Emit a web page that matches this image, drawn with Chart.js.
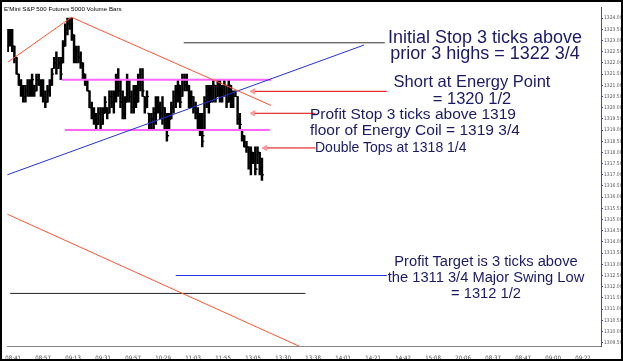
<!DOCTYPE html>
<html>
<head>
<meta charset="utf-8">
<script src="https://cdn.jsdelivr.net/npm/chart.js@4"></script>
<style>
  body { margin: 0; background: #fff; }
  #frame { position: relative; width: 619px; height: 357px; border: 2px solid #000; background: #fff; overflow: hidden; }
  #chart { position: absolute; left: 0; top: 0; }
  .note { position: absolute; color: #1a1a66; font-family: Arial, "Liberation Sans", sans-serif; line-height: 16px; text-align: center; white-space: nowrap; }
  #title { position: absolute; left: 2px; top: 3px; font: 6.2px Arial, "Liberation Sans", sans-serif; color: #000; white-space: nowrap; }
</style>
</head>
<body>
<div id="frame">
  <canvas id="chart" width="619" height="357"></canvas>
  <div id="title">E'Mini S&amp;P 500 Futures 5000 Volume Bars</div>
  <div class="note" style="left:373px; top:27px; width:220px; font-size:18px;">Initial Stop 3 ticks above<br>prior 3 highs = 1322 3/4</div>
  <div class="note" style="left:370px; top:71px; width:200px; font-size:16.5px; line-height:17px;">Short at Energy Point<br>= 1320 1/2</div>
  <div class="note" style="left:308px; top:104px; width:200px; font-size:15.5px;">Profit Stop 3 ticks above 1319<br>floor of Energy Coil = 1319 3/4</div>
  <div class="note" style="left:313px; top:137px; text-align:left; font-size:14px;">Double Tops at 1318 1/4</div>
  <div class="note" style="left:384px; top:251px; width:200px; font-size:14.7px;">Profit Target is 3 ticks above<br>the 1311 3/4 Major Swing Low<br>= 1312 1/2</div>
</div>
<script>
// bar values (ES ticks of 0.25)
const highs = [1323.5, 1323.5, 1323.5, 1322.75, 1322.25, 1321.5, 1321.25, 1321.0, 1321.0, 1321.25,
  1321.25, 1321.5, 1321.0, 1321.5, 1321.5, 1321.25, 1321.25, 1320.75, 1321.0, 1321.25,
  1321.75, 1322.25, 1322.5, 1322.25, 1322.25, 1323.0, 1323.75, 1324.0, 1324.0, 1324.0,
  1323.25, 1322.75, 1322.75, 1322.5, 1322.0, 1321.5, 1321.25, 1320.75, 1320.25, 1320.0,
  1319.75, 1320.0, 1320.0, 1320.0, 1320.5, 1320.0, 1320.75, 1320.75, 1320.75, 1321.5,
  1321.75, 1321.25, 1320.75, 1320.5, 1321.5, 1321.25, 1320.75, 1321.0, 1321.0, 1321.5,
  1321.75, 1321.75, 1320.5, 1320.75, 1319.75, 1319.75, 1320.0, 1320.5, 1320.5, 1320.25,
  1320.5, 1320.0, 1319.75, 1319.75, 1320.25, 1320.75, 1321.0, 1321.25, 1321.0, 1321.5,
  1321.5, 1321.5, 1321.0, 1320.75, 1320.5, 1320.25, 1320.0, 1319.75, 1319.75, 1320.5,
  1321.0, 1321.0, 1321.0, 1321.25, 1321.0, 1321.25, 1321.25, 1321.0, 1321.25, 1321.0,
  1321.25, 1321.0, 1320.75, 1320.75, 1320.5, 1319.75, 1319.0, 1318.75, 1318.5, 1318.25,
  1318.25, 1318.0, 1318.25, 1318.25, 1318.0, 1317.75];
const lows = [1322.5, 1322.75, 1322.5, 1322.0, 1321.5, 1321.0, 1320.5, 1320.25, 1320.25, 1320.5,
  1320.5, 1320.5, 1320.5, 1320.75, 1321.0, 1320.5, 1320.25, 1320.0, 1320.25, 1320.5,
  1321.0, 1321.75, 1321.5, 1321.75, 1321.25, 1322.0, 1322.75, 1323.25, 1323.5, 1323.0,
  1322.0, 1322.0, 1322.0, 1321.75, 1321.25, 1321.0, 1320.75, 1320.0, 1319.5, 1319.25,
  1319.0, 1319.25, 1319.0, 1319.25, 1319.75, 1319.5, 1319.75, 1320.0, 1319.75, 1320.25,
  1320.5, 1320.0, 1319.5, 1319.5, 1320.25, 1320.25, 1319.75, 1319.75, 1320.0, 1320.25,
  1320.75, 1320.5, 1319.75, 1320.0, 1319.0, 1319.0, 1319.0, 1319.25, 1319.75, 1319.5,
  1319.25, 1319.0, 1318.5, 1319.0, 1319.5, 1319.75, 1320.0, 1320.25, 1320.0, 1320.5,
  1320.75, 1320.75, 1320.0, 1320.0, 1319.75, 1319.5, 1319.0, 1318.75, 1318.25, 1319.0,
  1320.0, 1319.75, 1320.25, 1320.25, 1320.25, 1320.5, 1320.25, 1320.25, 1320.5, 1320.0,
  1320.25, 1320.0, 1320.0, 1320.5, 1319.25, 1319.0, 1318.5, 1318.25, 1318.0, 1317.25,
  1317.0, 1317.5, 1317.0, 1317.5, 1317.0, 1316.75];
const opens = [1322.75, 1323.25, 1323.0, 1322.75, 1322.25, 1321.5, 1321.0, 1320.75, 1320.5, 1320.75,
  1321.0, 1320.75, 1321.0, 1320.75, 1321.25, 1321.0, 1320.75, 1320.5, 1320.25, 1320.75,
  1321.0, 1321.75, 1322.0, 1321.75, 1322.0, 1322.0, 1322.75, 1323.5, 1323.75, 1323.75,
  1323.25, 1322.25, 1322.5, 1322.25, 1322.0, 1321.5, 1321.0, 1320.75, 1320.0, 1319.75,
  1319.5, 1319.25, 1319.75, 1319.25, 1319.75, 1320.0, 1319.75, 1320.5, 1320.25, 1320.5,
  1321.25, 1320.75, 1320.25, 1319.75, 1320.25, 1321.0, 1320.5, 1320.0, 1320.75, 1320.25,
  1321.25, 1321.0, 1320.5, 1320.0, 1319.75, 1319.25, 1319.5, 1319.75, 1320.25, 1320.0,
  1319.75, 1320.0, 1319.25, 1318.75, 1319.5, 1320.0, 1320.5, 1320.75, 1321.0, 1320.5,
  1321.25, 1321.0, 1321.0, 1320.25, 1320.5, 1320.0, 1319.75, 1319.25, 1319.0, 1318.75,
  1320.25, 1320.75, 1320.25, 1320.75, 1321.0, 1320.5, 1321.0, 1320.5, 1320.75, 1321.0,
  1320.25, 1321.0, 1320.25, 1320.5, 1320.5, 1319.5, 1319.0, 1318.75, 1318.25, 1318.25,
  1317.5, 1318.0, 1317.75, 1317.25, 1318.0, 1317.25];
const closes = [1323.25, 1323.0, 1322.75, 1322.25, 1321.5, 1321.0, 1320.75, 1320.5, 1320.75, 1321.0,
  1320.75, 1321.25, 1320.75, 1321.25, 1321.0, 1320.75, 1320.5, 1320.25, 1320.75, 1321.0,
  1321.5, 1322.0, 1321.75, 1322.0, 1321.5, 1322.75, 1323.5, 1323.75, 1323.75, 1323.25,
  1322.25, 1322.5, 1322.25, 1322.0, 1321.5, 1321.0, 1320.75, 1320.0, 1319.75, 1319.5,
  1319.25, 1319.75, 1319.25, 1319.75, 1320.25, 1319.75, 1320.5, 1320.25, 1320.5, 1321.25,
  1320.75, 1320.25, 1319.75, 1320.25, 1321.25, 1320.5, 1320.0, 1320.75, 1320.25, 1321.25,
  1321.0, 1320.75, 1320.0, 1320.5, 1319.25, 1319.5, 1319.75, 1320.25, 1320.0, 1319.75,
  1320.0, 1319.25, 1318.75, 1319.5, 1320.0, 1320.5, 1320.75, 1321.0, 1320.25, 1321.25,
  1321.0, 1321.25, 1320.25, 1320.5, 1320.0, 1319.75, 1319.25, 1319.0, 1318.5, 1320.25,
  1320.75, 1320.25, 1320.75, 1321.0, 1320.5, 1321.0, 1320.5, 1320.75, 1321.0, 1320.25,
  1321.0, 1320.25, 1320.5, 1320.5, 1319.5, 1319.25, 1318.75, 1318.25, 1318.25, 1317.5,
  1318.0, 1317.75, 1317.25, 1318.0, 1317.25, 1317.0];

const timeLabels = ['08:41', '08:57', '09:13', '09:31', '09:57', '10:29', '11:03', '11:55', '13:05', '13:30',
  '13:38', '14:01', '14:21', '14:42', '15:08', '20:06', '08:37', '08:47', '09:00', '09:22'];
const priceTicks = [1309.5, 1310, 1310.5, 1311, 1311.5, 1312, 1312.5, 1313, 1313.5, 1314, 1314.5, 1315,
  1315.5, 1316, 1316.5, 1317, 1317.5, 1318, 1318.5, 1319, 1319.5, 1320, 1320.5, 1321, 1321.5,
  1322, 1322.5, 1323, 1323.5, 1324];

// drawn lines, endpoints as [bar index, price]
const upTrend = [[0.1, 1322.04], [28.8, 1324.04]];
const downTrend = [[28.8, 1324.04], [119.1, 1320.1]];
const channelLow = [[-0.2, 1315.24], [132.5, 1309.31]];
const blueTrend = [[-0.2, 1317.0], [161.2, 1322.8]];
const coilTop = [[24.4, 1321.25], [119.1, 1321.25]];
const coilFloor = [[25.8, 1319.0], [118.6, 1319.0]];
const stopLine = [[79.6, 1322.9], [170.6, 1322.9]];
const shortLine = [[111, 1320.73], [171.5, 1320.73]];
const profitStopLine = [[111, 1319.75], [139.2, 1319.75]];
const doubleTopLine = [[116.4, 1318.2], [139.2, 1318.2]];
const targetLine = [[76, 1312.5], [171.5, 1312.5]];
const swingLowLine = [[1.1, 1311.7], [134.7, 1311.7]];

const pts = arr => arr.map(p => ({ x: p[0], y: p[1] }));

function seg(points, color, width, arrow) {
  return {
    type: 'line',
    data: pts(points),
    borderColor: color,
    borderWidth: width,
    pointRadius: arrow ? [3, 0] : 0,
    pointStyle: 'triangle',
    pointRotation: -90,
    pointBackgroundColor: '#ff9999',
    pointBorderColor: '#ff9999',
    order: 0
  };
}

new Chart(document.getElementById('chart'), {
  type: 'bar',
  data: {
    datasets: [
      {
        type: 'bar',
        data: highs.map((h, i) => ({ x: i, y: [lows[i], h] })),
        backgroundColor: '#000',
        barThickness: 1.8,
        order: 2
      },
      {
        type: 'scatter',
        data: opens.map((o, i) => ({ x: i - 0.45, y: o })),
        pointStyle: 'line',
        pointRadius: 1,
        borderColor: '#000',
        borderWidth: 1.2,
        order: 2
      },
      {
        type: 'scatter',
        data: closes.map((c, i) => ({ x: i + 0.45, y: c })),
        pointStyle: 'line',
        pointRadius: 1,
        borderColor: '#000',
        borderWidth: 1.2,
        order: 2
      },
      seg(upTrend, '#ff5533', 1),
      seg(downTrend, '#ff5533', 1),
      seg(channelLow, '#ff5533', 1),
      seg(blueTrend, '#2233dd', 1),
      seg(coilTop, '#ff66ff', 2),
      seg(coilFloor, '#ff66ff', 2),
      seg(stopLine, '#333333', 1),
      seg(shortLine, '#dd0000', 1, true),
      seg(profitStopLine, '#dd0000', 1, true),
      seg(doubleTopLine, '#dd0000', 1, true),
      seg(targetLine, '#2233dd', 1),
      seg(swingLowLine, '#222222', 1)
    ]
  },
  options: {
    responsive: false,
    animation: false,
    devicePixelRatio: 1,
    layout: { padding: { top: 2 } },
    plugins: { legend: { display: false }, tooltip: { enabled: false } },
    scales: {
      x: {
        type: 'linear',
        offset: false,
        min: -0.25,
        max: 268.4,
        grid: { display: false },
        border: { display: true, color: '#888' },
        afterBuildTicks: scale => {
          scale.ticks = timeLabels.map((t, k) => ({ value: 2.44 + k * 13.57 }));
        },
        afterFit: scale => { scale.height = 13; },
        ticks: {
          autoSkip: false,
          maxRotation: 0,
          padding: 1,
          color: '#444',
          font: { family: '"Liberation Sans Narrow", "DejaVu Sans Condensed", Arial', size: 6 },
          callback: (v, i) => timeLabels[i]
        }
      },
      y: {
        position: 'right',
        min: 1309.35,
        max: 1324.49,
        grid: { display: true, drawOnChartArea: false, drawTicks: true, tickLength: 2, color: '#3344aa' },
        border: { display: true, color: '#555' },
        afterBuildTicks: scale => {
          scale.ticks = priceTicks.map(v => ({ value: v }));
        },
        afterFit: scale => { scale.width = 20; },
        ticks: {
          autoSkip: false,
          padding: 1,
          color: '#555',
          font: { family: '"Liberation Sans Narrow", "DejaVu Sans Condensed", Arial', size: 5 },
          callback: v => v.toFixed(2)
        }
      }
    }
  }
});
</script>
</body>
</html>
